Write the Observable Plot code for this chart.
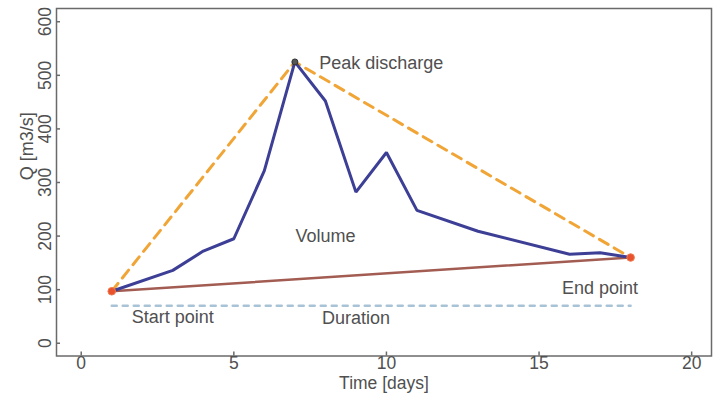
<!DOCTYPE html>
<html>
<head>
<meta charset="utf-8">
<script src="https://cdn.jsdelivr.net/npm/d3@7"></script>
<script src="https://cdn.jsdelivr.net/npm/@observablehq/plot@0.6"></script>
<style>
  html, body { margin: 0; padding: 0; background: #fff; }
  #chart svg { display: block; }
</style>
</head>
<body>
<div id="chart"></div>
<script>
// Hydrograph data
const days = [1, 3, 4, 5, 6, 7, 8, 9, 10, 11, 13, 16, 17, 18];
const discharge = [97, 136, 172, 195, 322, 525, 452, 282, 356, 248, 209, 166, 169, 160];

// Key points
const startPoint = {x: 1, y: 97};
const peakPoint = {x: 7, y: 525};
const endPoint = {x: 18, y: 160};
const durationLevel = 70;

// Annotations
const peakLabel = [{text: "Peak discharge", x: 7.8, y: 522}];
const labels = [
  {text: "Volume", x: 8.0, y: 199},
  {text: "Start point", x: 3.0, y: 49},
  {text: "Duration", x: 9.0, y: 46},
  {text: "End point", x: 17.0, y: 102}
];

// Ticks
const xTicks = [0, 5, 10, 15, 20];
const yTicks = [0, 100, 200, 300, 400, 500, 600];

const hydro = days.map((d, i) => ({x: d, y: discharge[i]}));
const triangle = [startPoint, peakPoint, endPoint];
const baseflow = [startPoint, endPoint];
const duration = [{x: startPoint.x, y: durationLevel}, {x: endPoint.x, y: durationLevel}];

const textColor = "#505050";
const font = "'Liberation Sans', Arial, Helvetica, sans-serif";

const chart = Plot.plot({
  width: 714,
  height: 394,
  marginLeft: 56,
  marginRight: 3,
  marginTop: 8,
  marginBottom: 38.5,
  style: {fontFamily: font, fontSize: "18px", color: textColor, background: "#fff"},
  x: {domain: [-0.81, 20.65]},
  y: {domain: [-23.8, 624.7]},
  marks: [
    // duration (dashed light blue)
    Plot.line(duration, {x: "x", y: "y", stroke: "#a9c3d6", strokeWidth: 2.5, strokeDasharray: "5,6"}),
    // baseflow line
    Plot.line(baseflow, {x: "x", y: "y", stroke: "#a25c52", strokeWidth: 2.5}),
    // triangle (dashed orange)
    Plot.line(triangle, {x: "x", y: "y", stroke: "#f0a536", strokeWidth: 3, strokeDasharray: "10,7"}),
    // hydrograph
    Plot.line(hydro, {x: "x", y: "y", stroke: "#3c3f95", strokeWidth: 3, strokeLinejoin: "miter"}),
    // points
    Plot.dot([peakPoint], {x: "x", y: "y", r: 3, fill: "#555", stroke: "#333", strokeWidth: 1}),
    Plot.dot([startPoint, endPoint], {x: "x", y: "y", r: 3.8, fill: "#e8522c", stroke: "#f07a50", strokeWidth: 1}),
    // annotation labels
    Plot.text(peakLabel, {x: "x", y: "y", text: "text", textAnchor: "start", fill: textColor, fontSize: 18, lineAnchor: "middle"}),
    Plot.text(labels, {x: "x", y: "y", text: "text", textAnchor: "middle", fill: textColor, fontSize: 18, lineAnchor: "middle"}),
    // frame
    Plot.frame({stroke: "#6a6a6a", strokeWidth: 1.5}),
    // inward ticks
    Plot.axisX({ticks: xTicks, tickSize: 4, dy: -4, tickFormat: () => "", stroke: "#6a6a6a", strokeWidth: 1.5, label: null}),
    Plot.axisY({ticks: yTicks, tickSize: 4, dx: 4, tickFormat: () => "", stroke: "#6a6a6a", strokeWidth: 1.5, label: null}),
    // tick labels
    Plot.axisX({ticks: xTicks, tickSize: 0, tickPadding: 1, fontSize: 17.5, fill: textColor, label: null}),
    Plot.axisY({ticks: yTicks, tickSize: 0, tickPadding: 6, tickRotate: -90, fontSize: 17.5, fill: textColor, label: null}),
    // axis titles
    Plot.text(["Time [days]"], {frameAnchor: "bottom", dy: 27, lineAnchor: "middle", fontSize: 17.5, fill: textColor}),
    Plot.text(["Q [m3/s]"], {frameAnchor: "left", dx: -29, dy: -2, rotate: -90, lineAnchor: "middle", fontSize: 18, fill: textColor})
  ]
});

document.getElementById("chart").appendChild(chart);
</script>
</body>
</html>
